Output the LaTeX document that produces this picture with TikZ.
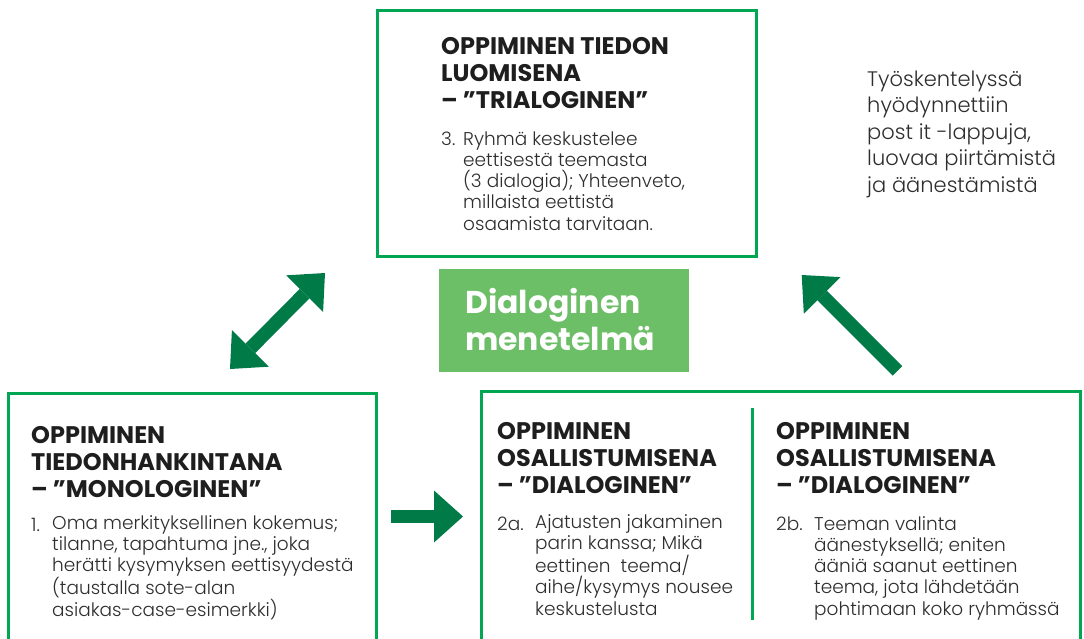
\documentclass[tikz,border=0pt]{standalone}
\usepackage{fontspec}
\setmainfont{Poppins}[UprightFont=* Light, BoldFont=* Bold]
\usetikzlibrary{arrows.meta}

\definecolor{framegreen}{HTML}{00A651}
\definecolor{arrowgreen}{HTML}{007A47}
\definecolor{boxgreen}{HTML}{6CBF66}
\definecolor{titleink}{HTML}{1E1E1E}
\definecolor{bodyink}{HTML}{2E2E2E}

% multi-line nodes are anchored at the baseline of their last line
\begin{document}
\begin{tikzpicture}[x=1pt, y=-1pt,
  frame/.style={draw=framegreen, line width=3pt, inner sep=0pt, outer sep=0pt},
  heading/.style={anchor=base west, inner sep=0pt, align=left, text=titleink,
    font=\fontsize{24}{27.2}\selectfont\bfseries},
  itemno/.style={anchor=base west, inner sep=0pt, text=bodyink,
    font=\fontsize{18.5}{21.3}\selectfont},
  itemtext/.style={anchor=base west, inner sep=0pt, align=left, text=bodyink,
    font=\fontsize{18.5}{21.3}\selectfont},
  onewayarrow/.style={draw=arrowgreen, line width=13.5pt,
    -{Triangle[length=29pt, width=52pt, line width=0pt]}},
  twowayarrow/.style={draw=arrowgreen, line width=13.5pt,
    {Triangle[length=29pt, width=52pt, line width=0pt]}-{Triangle[length=29pt, width=52pt, line width=0pt]}}
]
\useasboundingbox (0,0) rectangle (1084,638);
\clip (0,0) rectangle (1084,638);

% frames of the three learning stages
\node[frame, minimum width=379.2pt, minimum height=246.4pt] (trialog) at (567.1,133.5) {};
\node[frame, minimum width=368pt, minimum height=320pt, anchor=north west] (monolog) at (8.5,393) {};
\node[frame, minimum width=598.7pt, minimum height=320pt, anchor=north west] (dialog) at (481.3,391.5) {};

% divider inside the dialogical frame
\coordinate (divtop) at (752.7,408);
\coordinate (divbot) at (752.7,620);
\draw[framegreen, line width=2.5pt] (divtop) -- (divbot);

% centre label
\node[fill=boxgreen, minimum width=250pt, minimum height=103pt, inner sep=0pt] (method) at (564,320.5) {};
\node[anchor=base west, inner sep=0pt, align=left, text=white,
  font=\fontsize{31.5}{37.4}\selectfont\bfseries] (methodtext) at (465,350.7)
  {Dialoginen\\menetelmä};

% top frame: knowledge creation
\node[heading] (trialoghead) at (441,108.7)
  {OPPIMINEN TIEDON\\LUOMISENA\\– ”TRIALOGINEN”};
\node[itemno] (trialogno) at (441,145) {3.};
\node[itemtext] (trialogbody) at (463,230.2)
  {Ryhmä keskustelee\\eettisestä teemasta\\(3 dialogia); Yhteenveto,\\millaista eettistä\\osaamista tarvitaan.};

% bottom-left frame: acquisition
\node[heading] (monologhead) at (31,497.7)
  {OPPIMINEN\\TIEDONHANKINTANA\\– ”MONOLOGINEN”};
\node[itemno] (monologno) at (31,531) {1.};
\node[itemtext] (monologbody) at (52,616.2)
  {Oma merkityksellinen kokemus;\\tilanne, tapahtuma jne., joka\\herätti kysymyksen eettisyydestä\\(taustalla sote-alan\\asiakas-case-esimerkki)};

% bottom-right frame: participation, two columns
\node[heading] (dialogheadA) at (497,493.9)
  {OPPIMINEN\\OSALLISTUMISENA\\– ”DIALOGINEN”};
\node[itemno] (dialognoA) at (497,530) {2a.};
\node[itemtext] (dialogbodyA) at (535,615.2)
  {Ajatusten jakaminen\\parin kanssa; Mikä\\eettinen\ \ teema/\\aihe/kysymys nousee\\keskustelusta};

\node[heading] (dialogheadB) at (776,493.9)
  {OPPIMINEN\\OSALLISTUMISENA\\– ”DIALOGINEN”};
\node[itemno] (dialognoB) at (776,530) {2b.};
\node[itemtext] (dialogbodyB) at (814,615.2)
  {Teeman valinta\\äänestyksellä; eniten\\ääniä saanut eettinen\\teema, jota lähdetään\\pohtimaan koko ryhmässä};

% side note
\node[anchor=base west, inner sep=0pt, align=left, text=bodyink,
  font=\fontsize{21}{26.6}\selectfont] (note) at (867,192.4)
  {Työskentelyssä\\hyödynnettiin\\post it -lappuja,\\luovaa piirtämistä\\ja äänestämistä};

% arrows between the stages
\coordinate (twowayA) at (230,369);
\coordinate (twowayB) at (325,273);
\draw[twowayarrow] (twowayA) -- (twowayB);

\coordinate (stepA) at (391,516.5);
\coordinate (stepB) at (463,516.5);
\draw[onewayarrow] (stepA) -- (stepB);

\coordinate (backA) at (897.5,370.8);
\coordinate (backB) at (801.7,275);
\draw[onewayarrow] (backA) -- (backB);
\end{tikzpicture}
\end{document}
